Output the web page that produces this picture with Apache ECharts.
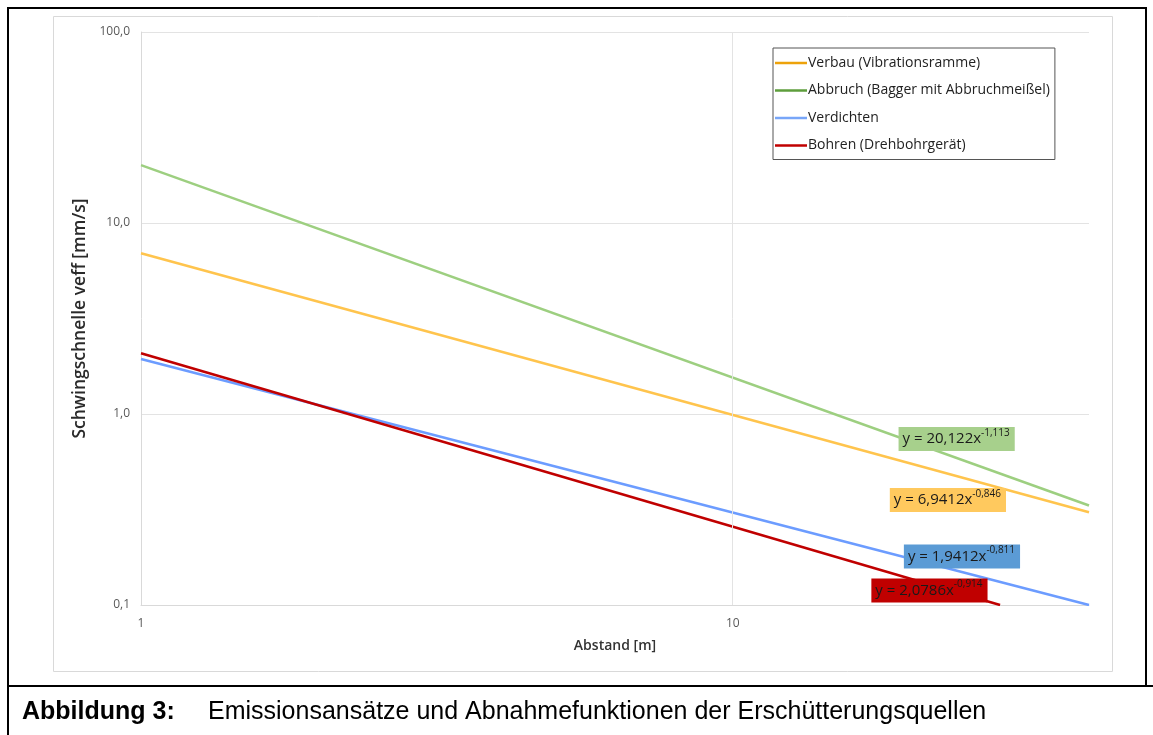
<!DOCTYPE html>
<html><head><meta charset="utf-8">
<script src="https://cdn.jsdelivr.net/npm/echarts@6/dist/echarts.min.js"></script>
<style>html,body{margin:0;padding:0;background:#fff}#c{width:1153px;height:735px}</style>
</head><body><div id="c"></div>
<script>
// Series names (legend)
const seriesNames = ['Verbau (Vibrationsramme)', 'Abbruch (Bagger mit Abbruchmeißel)', 'Verdichten', 'Bohren (Drehbohrgerät)'];
// Line end points [Abstand m, Schwingschnelle mm/s]
const verbau = [[1, 6.94], [40, 0.306]];
const abbruch = [[1, 20.1], [40, 0.332]];
const verdichten = [[1, 1.94], [40, 0.1]];
const bohren = [[1, 2.08], [28.3, 0.1]];
// Trendline equation texts
const eqCoef = ['6,9412', '20,122', '1,9412', '2,0786'];
const eqExp = ['-0,846', '-1,113', '-0,811', '-0,914'];
// Equation label anchor positions (data coords)
const eqPos = [[23.1, 0.355], [23.9, 0.74], [24.4, 0.1795], [21.5, 0.119]];

const lineColors = ['#FFC44D', '#9DCF80', '#6C9CFF', '#C00000'];
const legendColors = ['#EDA20A', '#5E9E3C', '#78A6F8', '#C00000'];
const boxColors = ['#FFC95E', '#A7D08C', '#5B9BD5', '#C00000'];
const datas = [verbau, abbruch, verdichten, bohren];
const F = '"Open Sans", "Liberation Sans", sans-serif';
const CAP = '"Liberation Sans", Arial, sans-serif';

const chart = echarts.init(document.getElementById('c'), null, {renderer: 'canvas'});
const fmtY = v => {
  if (Math.abs(v - 0.1) < 1e-9) return '0,1';
  return v.toFixed(1).replace('.', ',');
};
const series = datas.map((d, i) => ({
  name: seriesNames[i],
  type: 'line',
  data: d,
  symbol: 'none',
  showSymbol: false,
  lineStyle: {color: lineColors[i], width: 2.5},
  itemStyle: {color: lineColors[i]},
  z: 3,
  markPoint: {
    symbol: 'circle', symbolSize: 1,
    itemStyle: {color: 'rgba(0,0,0,0)'},
    data: [{
      coord: eqPos[i],
      label: {
        show: true, position: 'inside',
        formatter: '{a|y = ' + eqCoef[i] + 'x}{b|' + eqExp[i] + '}',
        backgroundColor: boxColors[i],
        padding: [1, 5, 1, 4],
        rich: {
          a: {fontFamily: F, fontSize: 15, color: '#1a1a1a', lineHeight: 22, verticalAlign: 'middle'},
          b: {fontFamily: F, fontSize: 10, color: '#1a1a1a', lineHeight: 18, verticalAlign: 'top'}
        }
      }
    }],
    z: 10
  }
}));

chart.setOption({
  animation: false,
  grid: {left: 141, top: 32, right: 64, bottom: 130},
  legend: {
    orient: 'vertical', left: 773, top: 48,
    icon: 'rect',
    itemWidth: 32, itemHeight: 2.5, itemGap: 11.5,
    padding: [7, 5, 6, 2],
    borderColor: '#555', borderWidth: 1,
    textStyle: {fontFamily: F, fontSize: 14, lineHeight: 16, color: '#222', padding: [0, 0, 0, -4]},
    data: seriesNames.map((n, i) => ({name: n, icon: 'rect', itemStyle: {color: legendColors[i]}}))
  },
  xAxis: {
    type: 'log', logBase: 10, min: 1, max: 40,
    name: 'Abstand [m]', nameLocation: 'middle', nameGap: 34,
    nameTextStyle: {fontFamily: F, fontSize: 14, fontWeight: 600, color: '#333'},
    axisLine: {show: true, lineStyle: {color: '#d9d9d9'}},
    axisTick: {show: false},
    axisLabel: {fontFamily: F, fontSize: 12, color: '#595959', margin: 13,
      formatter: v => (Math.abs(Math.log10(v) - Math.round(Math.log10(v))) < 1e-6 ? String(Math.round(v)) : '')},
    splitLine: {show: false}
  },
  yAxis: {
    type: 'log', logBase: 10, min: 0.1, max: 100,
    name: 'Schwingschnelle veff [mm/s]', nameLocation: 'middle', nameGap: 49,
    nameTextStyle: {fontFamily: F, fontSize: 17.5, fontWeight: 600, color: '#2a2a2a'},
    axisLine: {show: true, lineStyle: {color: '#d9d9d9'}},
    axisTick: {show: false},
    axisLabel: {fontFamily: F, fontSize: 12, color: '#595959', margin: 11, formatter: fmtY},
    splitLine: {show: true, lineStyle: {color: '#e3e3e3', width: 1}}
  },
  series: series.concat([{
    type: 'line', data: [], silent: true,
    markLine: {
      silent: true, symbol: 'none', label: {show: false},
      lineStyle: {color: '#e3e3e3', width: 1, type: 'solid'},
      data: [{xAxis: 10}]
    }
  }]),
  graphic: [
    {type: 'rect', shape: {x: 53.5, y: 16.5, width: 1059, height: 655}, style: {fill: 'none', stroke: '#d9d9d9', lineWidth: 1}, z: -1},
    {type: 'polyline', shape: {points: [[8, 735], [8, 8], [1146, 8], [1146, 686]]}, style: {fill: 'none', stroke: '#000', lineWidth: 2}},
    {type: 'line', shape: {x1: 8, y1: 686, x2: 1153, y2: 686}, style: {stroke: '#000', lineWidth: 2}},
    {type: 'text', left: 22, top: 700, style: {text: 'Abbildung 3:', font: 'bold 25px ' + CAP, fill: '#000'}},
    {type: 'text', left: 208, top: 700, style: {text: 'Emissionsansätze und Abnahmefunktionen der Erschütterungsquellen', font: '25px ' + CAP, fill: '#000'}}
  ]
});
</script></body></html>
